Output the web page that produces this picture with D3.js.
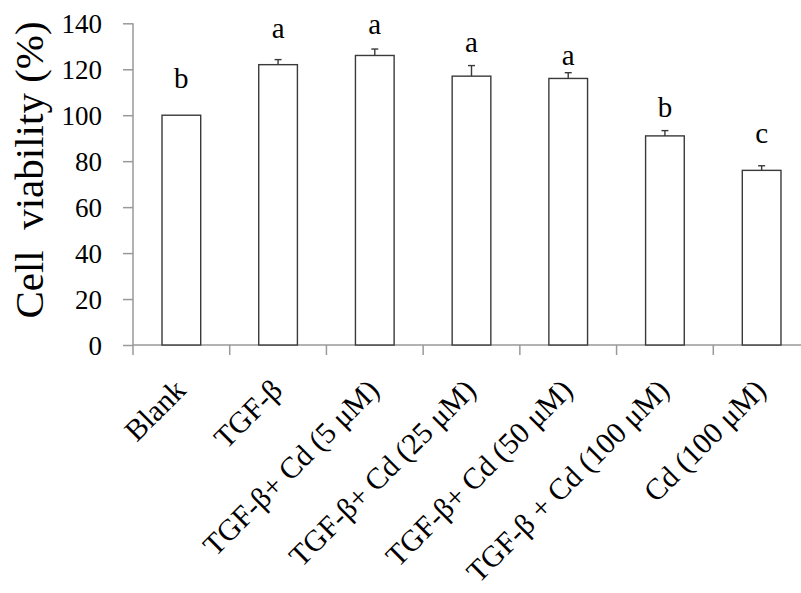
<!DOCTYPE html>
<html><head><meta charset="utf-8">
<script src="https://cdn.jsdelivr.net/npm/d3@7"></script>
<style>
html,body{margin:0;padding:0;background:#fff;}
svg{display:block;}
</style></head>
<body>
<svg id="chart" width="801" height="593"></svg>
<script>
const categories = ["Blank","TGF-β","TGF-β+ Cd (5 μM)","TGF-β+ Cd (25 μM)","TGF-β+ Cd (50 μM)","TGF-β + Cd (100 μM)","Cd (100 μM)"];
const values = [100,122,126,117,116,91,76];
const errors = [0,2.2,2.8,4.6,2.5,2.3,2];
const letters = ["b","a","a","a","a","b","c"];
const letterBase = [111.8,133.6,135.3,127.4,121.8,99.3,88];
const yTicks = [0,20,40,60,80,100,120,140];
const yTitle = "Cell  viability (%)";

const FONT = '"Liberation Serif", "Times New Roman", "DejaVu Serif", serif';
const svg = d3.select("#chart");
const mLeft = 133, mTop = 23.3, mBottom = 345, mRight = 810;
const x = d3.scaleBand().domain(categories).range([mLeft, mRight]).paddingInner(0.6).paddingOuter(0.3);
const xb = d3.scaleBand().domain(categories).range([mLeft, mRight]);
const y = d3.scaleLinear().domain([0,140]).range([mBottom, mTop]);
const axisColor = "#999";

// Y axis
const ya = svg.append("g").attr("transform",`translate(${mLeft},0)`)
  .call(d3.axisLeft(y).tickValues(yTicks).tickSize(10).tickPadding(21));
ya.select(".domain").attr("stroke",axisColor).attr("stroke-width",1.5).attr("d",`M0,${mTop}V${mBottom}`);
ya.selectAll(".tick line").attr("stroke",axisColor).attr("stroke-width",1.5);
ya.selectAll(".tick text").style("font-family",FONT).style("font-size","27px").attr("fill","#000").attr("dy","0.34em");

// X axis line and boundary ticks
svg.append("line").attr("x1",mLeft).attr("x2",801).attr("y1",mBottom).attr("y2",mBottom)
  .attr("stroke",axisColor).attr("stroke-width",1.5);
svg.append("g").selectAll("line").data(categories).join("line")
  .attr("x1",d=>xb(d)).attr("x2",d=>xb(d)).attr("y1",mBottom).attr("y2",mBottom+10)
  .attr("stroke",axisColor).attr("stroke-width",1.5);

// Bars
svg.append("g").selectAll("rect").data(categories).join("rect")
  .attr("x",d=>x(d)).attr("width",x.bandwidth())
  .attr("y",(d,i)=>y(values[i])).attr("height",(d,i)=>y(0)-y(values[i]))
  .attr("fill","#fff").attr("stroke","#3a3a3a").attr("stroke-width",1.4);

// Error bars
const eb = svg.append("g").attr("stroke","#3a3a3a").attr("stroke-width",1.4);
categories.forEach((c,i)=>{
  if(!errors[i]) return;
  const cx = x(c)+x.bandwidth()/2;
  eb.append("line").attr("x1",cx).attr("x2",cx).attr("y1",y(values[i])).attr("y2",y(values[i]+errors[i]));
  eb.append("line").attr("x1",cx-3.5).attr("x2",cx+3.5).attr("y1",y(values[i]+errors[i])).attr("y2",y(values[i]+errors[i]));
});

// Significance letters
svg.append("g").selectAll("text").data(categories).join("text")
  .attr("x",d=>x(d)+x.bandwidth()/2).attr("y",(d,i)=>y(letterBase[i]))
  .attr("text-anchor","middle").style("font-family",FONT).style("font-size","29px").attr("fill","#000")
  .text((d,i)=>letters[i]);

// X labels
svg.append("g").selectAll("text").data(categories).join("text")
  .attr("transform",d=>`translate(${x(d)+x.bandwidth()/2+6},${392}) rotate(-45)`)
  .attr("text-anchor","end").style("font-family",FONT).style("font-size","30px").attr("fill","#000")
  .text(d=>d);

// Y title
svg.append("text").attr("transform",`translate(43,170) rotate(-90)`)
  .attr("text-anchor","middle").style("font-family",FONT).style("font-size","41px")
  .style("white-space","pre").attr("fill","#000").text(yTitle);
</script>
</body></html>
